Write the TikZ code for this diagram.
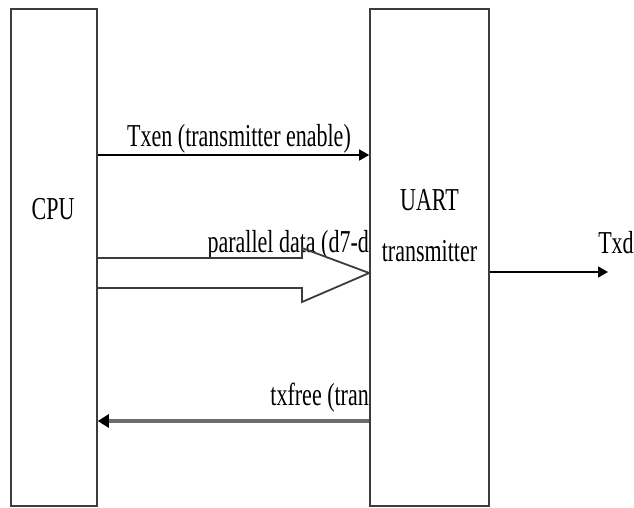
\documentclass[tikz,border=0pt]{standalone}
\usepackage{fontspec}
\usepackage{graphicx}
\setmainfont{Liberation Serif}
\usetikzlibrary{arrows.meta}
\newcommand\tallt[1]{\scalebox{1}[1.45]{#1}}
\definecolor{boxline}{HTML}{3C3C3C}
\tikzset{
  blk/.style={draw=boxline, line width=1.6pt, fill=white, inner sep=0pt},
  lbl/.style={inner sep=0pt, font=\fontsize{22}{26}\selectfont, text=black},
  sig/.style={line width=1.4pt, draw=black, -{Triangle[length=10pt,width=11pt]}},
  ret/.style={line width=3.2pt, draw=gray!85!black, -{Triangle[length=11pt,width=13pt,color=black]}},
  bus/.style={line width=1.8pt, draw=boxline, line join=miter}
}
\begin{document}
\begin{tikzpicture}[x=1pt,y=-1pt]
\useasboundingbox (0,0) rectangle (634,507);
% boxes
\node[blk, minimum width=86pt, minimum height=497pt] (cpu) at (54,257.5) {};
\node[blk, minimum width=119pt, minimum height=497pt] (uart) at (429.5,257.5) {};
% box labels
\node[lbl, anchor=base] (cpul) at (53,219) {\tallt{CPU}};
\node[lbl, anchor=base] (uartl) at (429.5,210) {\tallt{UART}};
\node[lbl, anchor=base] (uartl2) at (429.5,261) {\tallt{transmitter}};
% Txen
\node[lbl, anchor=base] (txenl) at (239,146) {\tallt{Txen (transmitter enable)}};
\draw[sig] (cpu.east |- 0,155) -- (uart.west |- 0,155);
% parallel data bus
\node[lbl, anchor=base east] (pdl) at (369,252) {\tallt{parallel data (d7-d}};
\draw[bus] (cpu.east |- 0,258) -- (302,258) -- (302,248) -- (uart.west |- 0,273) -- (302,302) -- (302,288) -- (cpu.east |- 0,288);
% txfree
\node[lbl, anchor=base east] (txfl) at (369,405) {\tallt{txfree (tran}};
\draw[ret] (uart.west |- 0,421) -- (cpu.east |- 0,421);
% Txd
\coordinate (txdend) at (608,272);
\draw[sig] (uart.east |- txdend) -- (txdend);
\node[lbl, anchor=base] (txdl) at (616,253) {\tallt{Txd}};
\end{tikzpicture}
\end{document}
